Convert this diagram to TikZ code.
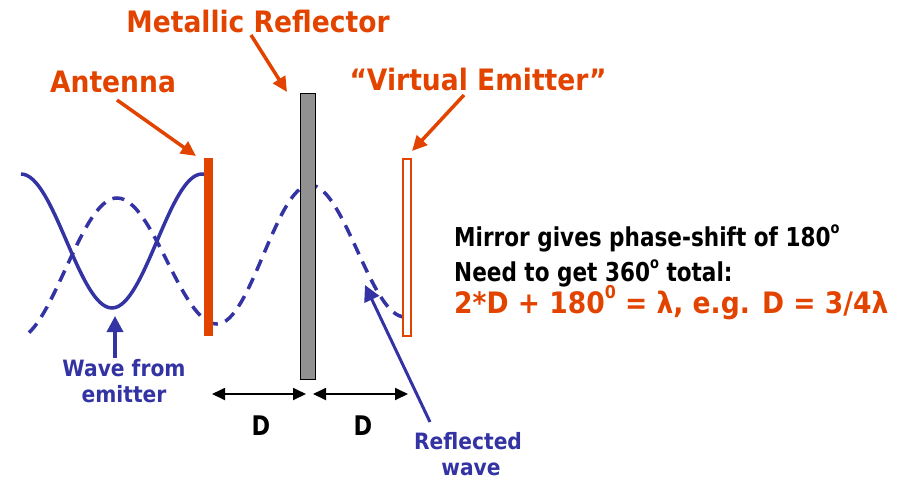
\documentclass[tikz,border=0pt]{standalone}
\usepackage{fontspec}
\setmainfont{DejaVu Sans}[FakeStretch=0.83]
\newfontfamily\widefont{DejaVu Sans}[FakeStretch=0.9]
\newfontfamily\eqfont{DejaVu Sans}[FakeStretch=0.9]
\usetikzlibrary{arrows.meta}
\definecolor{myorange}{RGB}{226,68,0}
\definecolor{myblue}{RGB}{51,51,163}
\definecolor{mygray}{RGB}{145,145,145}
\newcommand\mysup[1]{\raisebox{0.5em}{\scalebox{0.6}{#1}}}
\begin{document}
\begin{tikzpicture}[x=1pt,y=-1pt,
  olabel/.style={font=\widefont\fontsize{29.5}{30}\selectfont\bfseries, text=myorange, inner sep=0pt},
  blabel/.style={font=\widefont\fontsize{22.5}{24}\selectfont\bfseries, text=myblue, inner sep=0pt, text height=16pt, text depth=4pt},
  klabel/.style={font=\fontsize{26}{28}\selectfont\bfseries, text=black, inner sep=0pt, text height=20pt, text depth=5pt},
  dlabel/.style={font=\fontsize{27}{28}\selectfont\bfseries, text=black, inner sep=0pt},
  eqlabel/.style={font=\eqfont\fontsize{29.5}{30}\selectfont\bfseries, text=myorange, inner sep=0pt, text height=21pt, text depth=5pt},
  oarrow/.style={draw=myorange, line width=3.5pt, -{Triangle[length=15pt,width=14pt]}},
  barrow/.style={draw=myblue, line width=3.5pt, -{Triangle[length=16pt,width=16pt]}},
  darrow/.style={draw=black, line width=1.8pt, {Triangle[length=13pt,width=12pt]}-{Triangle[length=13pt,width=12pt]}},
  wave/.style={draw=myblue, line width=3.5pt},
  dwave/.style={wave, dash pattern=on 12pt off 8pt},
]
\useasboundingbox (0,0) rectangle (913,480);

% waves
\draw[wave] (21,174) .. controls (54.1,174) and (78.9,308) .. (112,308)
  .. controls (144.7,308) and (169.3,174) .. (202,174) -- (205,174);
\draw[dwave] plot[domain=29:117,samples=40] (\x,{269-71*cos(180*(\x-117)/103)})
  .. controls (153.3,198) and (180.7,324) .. (217,324)
  .. controls (250.8,324) and (276.2,185) .. (310,185)
  .. controls (344.5,185) and (370.5,317) .. (405,317);

% bars
\node[fill=myorange, minimum width=9pt, minimum height=178pt, inner sep=0pt, anchor=north west] (ant) at (204,158) {};
\node[draw=black, line width=1pt, fill=mygray, minimum width=15pt, minimum height=286pt, inner sep=0pt, anchor=north west] (refl) at (300,93) {};
\node[draw=myorange, line width=1.5pt, fill=white, minimum width=8pt, minimum height=177pt, inner sep=0pt, anchor=north west] (virt) at (402,158) {};

% top labels
\node[olabel, anchor=base] (tref) at (258,32) {Metallic Reflector};
\node[olabel, anchor=base] (tant) at (113,92) {Antenna};
\node[olabel, anchor=base] (tvirt) at (478,90) {“Virtual Emitter”};

\coordinate (antS) at (117,100);
\coordinate (antT) at (196,156);
\coordinate (refS) at (251,35);
\coordinate (refT) at (287,92);
\coordinate (virS) at (464,95);
\coordinate (virT) at (412,151);
\draw[oarrow] (antS) -- (antT);
\draw[oarrow] (refS) -- (refT);
\draw[oarrow] (virS) -- (virT);

% right text
\node[klabel, anchor=base west] (t1) at (454,246) {Mirror gives phase-shift of 180\mysup{o}};
\node[klabel, anchor=base west] (t2) at (454,281) {Need to get 360\mysup{o} total:};
\node[eqlabel, anchor=base west] (t3) at (454,313) {2*D + 180\mysup{0} = λ, e.g. D = 3/4λ};

% wave from emitter
\node[blabel, anchor=base] (wf1) at (124,376) {Wave from};
\node[blabel, anchor=base] (wf2) at (124,402) {emitter};
\coordinate (wfS) at (115,358);
\coordinate (wfT) at (115,316);
\draw[barrow] (wfS) -- (wfT);

% reflected wave
\node[blabel, anchor=base] (rw1) at (468,449) {Reflected};
\node[blabel, anchor=base] (rw2) at (471,475) {wave};
\coordinate (rwS) at (430,422);
\coordinate (rwT) at (365,285);
\draw[barrow, line width=3pt] (rwS) -- (rwT);

% D arrows
\coordinate (d1a) at (212,394);
\coordinate (d1b) at (306,394);
\coordinate (d2a) at (313,394);
\coordinate (d2b) at (408,394);
\draw[darrow] (d1a) -- (d1b);
\draw[darrow] (d2a) -- (d2b);
\node[dlabel, anchor=base] (D1) at (261,435) {D};
\node[dlabel, anchor=base] (D2) at (363,435) {D};
\end{tikzpicture}
\end{document}
